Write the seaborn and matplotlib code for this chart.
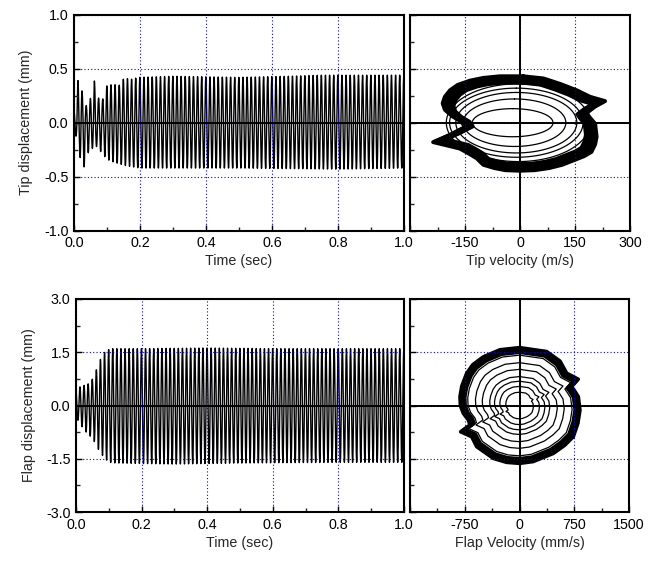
import numpy as np
import pandas as pd
import matplotlib
matplotlib.use("Agg")
import matplotlib.pyplot as plt
from matplotlib.ticker import MultipleLocator, FixedLocator
import seaborn as sns

# ---------------- data ----------------
freq_hz = 80.0            # oscillation frequency (cycles counted on the picture)
sample_hz = 4000.0

# Tip displacement envelope (mm)
tip_up_t = [0.0, 0.012, 0.024, 0.036, 0.048, 0.061, 0.073, 0.086, 0.099, 0.111, 0.121,
            0.134, 0.146, 0.159, 0.171, 0.196, 0.3, 0.5, 0.65, 0.75, 0.9, 1.0]
tip_up = [0.10, 0.39, 0.30, 0.155, 0.20, 0.40, 0.23, 0.21, 0.34, 0.35, 0.36,
          0.33, 0.40, 0.41, 0.40, 0.42, 0.43, 0.42, 0.43, 0.44, 0.44, 0.44]
tip_lo_t = [0.0, 0.012, 0.026, 0.040, 0.054, 0.069, 0.084, 0.100, 0.125, 0.160, 0.2, 0.5, 0.8, 1.0]
tip_lo = [-0.05, -0.2, -0.47, -0.29, -0.24, -0.22, -0.28, -0.34, -0.37, -0.40, -0.42, -0.42, -0.43, -0.42]

# Flap displacement envelope (mm)
flap_up_t = [0.0, 0.02, 0.04, 0.055, 0.065, 0.075, 0.085, 0.097, 0.11, 0.2, 0.4, 0.6, 0.8, 1.0]
flap_up = [0.49, 0.55, 0.62, 0.81, 1.09, 1.31, 1.48, 1.57, 1.60, 1.60, 1.62, 1.60, 1.60, 1.60]
flap_lo_t = [0.0, 0.01, 0.03, 0.045, 0.06, 0.07, 0.085, 0.10, 0.12, 0.3, 0.5, 0.8, 1.0]
flap_lo = [-0.3, -0.5, -0.74, -0.88, -1.07, -1.27, -1.46, -1.60, -1.62, -1.65, -1.62, -1.60, -1.60]

# Outer phase loop of tip (velocity, displacement)
tip_loop_v = [9, -55, -100, -136, -170, -191, -205, -211, -205, -185,
              -160, -150, -190, -237, -200, -164, -140, -118, -100, -70,
              -40, 0, 40, 80, 115, 145, 175, 195, 205, 209,
              207, 205, 190, 182, 205, 232, 191, 155, 109, 64, 9]
tip_loop_d = [0.43, 0.43, 0.415, 0.39, 0.35, 0.30, 0.24, 0.18, 0.12, 0.06,
              0.01, -0.04, -0.11, -0.18, -0.21, -0.24, -0.285, -0.33, -0.39, -0.42,
              -0.44, -0.445, -0.44, -0.42, -0.39, -0.35, -0.31, -0.27, -0.20, -0.13,
              -0.07, -0.01, 0.05, 0.09, 0.15, 0.20, 0.24, 0.30, 0.36, 0.41, 0.43]
tip_band_scales = [0.86, 0.88, 0.90, 0.92, 0.94, 0.96, 0.98, 1.0]
# Inner (transient) tip loops: centre velocity, half-width, half-height
tip_ring_cv = [-20, -15, -10, -10, -5]
tip_ring_hv = [110, 140, 165, 182, 196]
tip_ring_hd = [0.13, 0.22, 0.28, 0.32, 0.36]

# Outer phase loop of flap (velocity mm/s, displacement mm)
flap_loop_v = [0, -267, -496, -640, -723, -790, -815, -810, -770, -700,
               -678, -806, -655, -586, -358, -180, 0, 186, 463, 620,
               737, 800, 828, 805, 746, 714, 805, 646, 555, 372, 0]
flap_loop_d = [1.63, 1.57, 1.37, 1.15, 0.91, 0.55, 0.25, 0.0, -0.22, -0.41,
               -0.55, -0.74, -0.88, -1.16, -1.49, -1.60, -1.63, -1.58, -1.35, -1.12,
               -0.88, -0.50, -0.13, 0.25, 0.44, 0.53, 0.74, 0.91, 1.25, 1.52, 1.63]
flap_ring_scales = [0.23, 0.33, 0.42, 0.50, 0.625, 0.74, 0.87]
flap_band_scales = [0.92, 0.94, 0.96, 0.98, 1.0]

# Tick labels
time_ticks = [0.0, 0.2, 0.4, 0.6, 0.8, 1.0]
tip_yticks = [-1.0, -0.5, 0.0, 0.5, 1.0]
flap_yticks = [-3.0, -1.5, 0.0, 1.5, 3.0]
tipv_ticks = [-150, 0, 150, 300]
flapv_ticks = [-750, 0, 750, 1500]

# ---------------- build signals ----------------
t = np.arange(0, 1.0 + 1e-9, 1.0 / sample_hz)
s = np.sin(2 * np.pi * freq_hz * t + np.pi / 2 - 2 * np.pi * freq_hz * 0.012)

def signal(up_t, up, lo_t, lo):
    u = np.interp(t, up_t, up)
    l = np.interp(t, lo_t, lo)
    return np.where(s >= 0, u * s, -l * s)

tip_sig = signal(tip_up_t, tip_up, tip_lo_t, tip_lo)
flap_sig = signal(flap_up_t, flap_up, flap_lo_t, flap_lo)

# ---------------- style ----------------
FS = 10.3
sns.set_theme(style="ticks")
plt.rcParams["font.family"] = ["Liberation Sans", "DejaVu Sans"]
plt.rcParams["font.size"] = FS
plt.rcParams["xtick.direction"] = "in"
plt.rcParams["ytick.direction"] = "in"

fig = plt.figure(figsize=(6.49, 5.62), dpi=100)
W, H = 649.0, 562.0

def add_ax(l, r, top, bot):
    return fig.add_axes([l / W, 1 - bot / H, (r - l) / W, (bot - top) / H])

ax_tl = add_ax(74, 404, 14.7, 230.7)
ax_tr = add_ax(410, 630, 14.7, 230.7)
ax_bl = add_ax(76, 404, 299, 512)
ax_br = add_ax(410, 629, 299, 512)

def style_ax(ax):
    for sp in ax.spines.values():
        sp.set_visible(True)
        sp.set_linewidth(1.5)
        sp.set_color("black")
        sp.set_zorder(6)
    ax.tick_params(which="major", length=4, width=1, labelsize=FS, pad=4, colors="black",
                   top=False, right=False)
    ax.tick_params(which="minor", length=3, width=1, top=False, right=False)
    ax.grid(True, which="major", color="blue", linestyle=(0, (1, 2)), linewidth=0.8, zorder=3)
    ax.set_axisbelow(False)

def zero_lines(ax, vertical):
    ax.axhline(0, color="black", lw=1.4, zorder=5)
    if vertical:
        ax.axvline(0, color="black", lw=1.4, zorder=5)

# ---- top-left
sns.lineplot(x=t, y=tip_sig, ax=ax_tl, color="black", lw=1.0, sort=False, estimator=None)
zero_lines(ax_tl, False)
ax_tl.set_xlim(0, 1)
ax_tl.set_ylim(-1, 1)
ax_tl.xaxis.set_major_locator(FixedLocator(time_ticks))
ax_tl.xaxis.set_minor_locator(MultipleLocator(0.1))
ax_tl.yaxis.set_major_locator(FixedLocator(tip_yticks))
ax_tl.yaxis.set_minor_locator(MultipleLocator(0.25))
ax_tl.set_xticklabels([f"{v:.1f}" for v in time_ticks])
ax_tl.set_yticklabels([f"{v:.1f}" for v in tip_yticks])
ax_tl.set_xlabel("Time (sec)", fontsize=FS, labelpad=3)
ax_tl.set_ylabel("Tip displacement (mm)", fontsize=FS, labelpad=8)
style_ax(ax_tl)

# ---- bottom-left
sns.lineplot(x=t, y=flap_sig, ax=ax_bl, color="black", lw=1.0, sort=False, estimator=None)
zero_lines(ax_bl, False)
ax_bl.set_xlim(0, 1)
ax_bl.set_ylim(-3, 3)
ax_bl.xaxis.set_major_locator(FixedLocator(time_ticks))
ax_bl.xaxis.set_minor_locator(MultipleLocator(0.1))
ax_bl.yaxis.set_major_locator(FixedLocator(flap_yticks))
ax_bl.yaxis.set_minor_locator(MultipleLocator(0.75))
ax_bl.set_xticklabels([f"{v:.1f}" for v in time_ticks])
ax_bl.set_yticklabels([f"{v:.1f}" for v in flap_yticks])
ax_bl.set_xlabel("Time (sec)", fontsize=FS, labelpad=3)
ax_bl.set_ylabel("Flap displacement (mm)", fontsize=FS, labelpad=7)
style_ax(ax_bl)

# ---- phase portraits
def draw_band(ax, lv, ld, band, band_lw):
    lv = np.asarray(lv, float)
    ld = np.asarray(ld, float)
    for k in band:
        sns.lineplot(x=lv * k, y=ld * k, ax=ax, color="black", lw=band_lw,
                     sort=False, estimator=None)

ang = np.linspace(0, 2 * np.pi, 120)
for cv, hv, hd in zip(tip_ring_cv, tip_ring_hv, tip_ring_hd):
    sns.lineplot(x=cv + hv * np.sin(ang), y=hd * np.cos(ang), ax=ax_tr, color="black",
                 lw=0.9, sort=False, estimator=None)
draw_band(ax_tr, tip_loop_v, tip_loop_d, tip_band_scales, 2.8)
zero_lines(ax_tr, True)
ax_tr.set_xlim(-300, 300)
ax_tr.set_ylim(-1, 1)
ax_tr.xaxis.set_major_locator(FixedLocator([-300] + tipv_ticks))
ax_tr.xaxis.set_minor_locator(MultipleLocator(75))
ax_tr.set_xticklabels([""] + [str(v) for v in tipv_ticks])
ax_tr.yaxis.set_major_locator(FixedLocator(tip_yticks))
ax_tr.yaxis.set_minor_locator(MultipleLocator(0.25))
ax_tr.set_yticklabels([])
ax_tr.set_xlabel("Tip velocity (m/s)", fontsize=FS, labelpad=3)
ax_tr.set_ylabel("")
style_ax(ax_tr)

fv = np.asarray(flap_loop_v, float)
fd = np.asarray(flap_loop_d, float)
for k in flap_ring_scales:
    sns.lineplot(x=fv * k, y=fd * k, ax=ax_br, color="black", lw=0.9,
                 sort=False, estimator=None)
draw_band(ax_br, flap_loop_v, flap_loop_d, flap_band_scales, 2.6)
zero_lines(ax_br, True)
ax_br.set_xlim(-1500, 1500)
ax_br.set_ylim(-3, 3)
ax_br.xaxis.set_major_locator(FixedLocator([-1500] + flapv_ticks))
ax_br.xaxis.set_minor_locator(MultipleLocator(375))
ax_br.set_xticklabels([""] + [str(v) for v in flapv_ticks])
ax_br.yaxis.set_major_locator(FixedLocator(flap_yticks))
ax_br.yaxis.set_minor_locator(MultipleLocator(0.75))
ax_br.set_yticklabels([])
ax_br.set_xlabel("Flap Velocity (mm/s)", fontsize=FS, labelpad=3)
ax_br.set_ylabel("")
style_ax(ax_br)

fig.savefig("out.png", dpi=100)
